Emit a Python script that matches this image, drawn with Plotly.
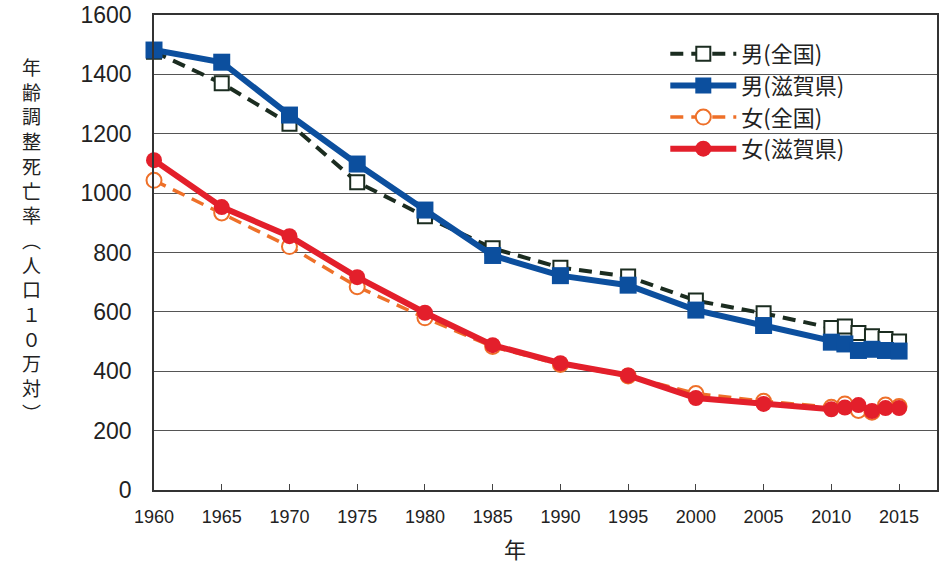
import plotly.graph_objects as go

years = [1960, 1965, 1970, 1975, 1980, 1985, 1990, 1995, 2000, 2005,
         2010, 2011, 2012, 2013, 2014, 2015]
male_national = [1476, 1370, 1234, 1037, 922, 814, 749, 719, 638, 595,
                 546, 551, 529, 518, 509, 500]
male_shiga = [1482, 1441, 1263, 1098, 943, 790, 722, 690, 606, 554,
              498, 492, 470, 474, 470, 468]
female_national = [1043, 933, 820, 685, 580, 483, 423, 384, 325, 299,
                   279, 290, 268, 262, 286, 281]
female_shiga = [1111, 953, 855, 717, 597, 488, 427, 386, 310, 290,
                272, 278, 286, 266, 276, 276]

series_names = ["男(全国)", "男(滋賀県)", "女(全国)", "女(滋賀県)"]
x_ticks = [1960, 1965, 1970, 1975, 1980, 1985, 1990, 1995, 2000, 2005, 2010, 2015]
y_ticks = [0, 200, 400, 600, 800, 1000, 1200, 1400, 1600]
y_title_chars = ["年", "齢", "調", "整", "死", "亡", "率", "︵", "人", "口", "１", "０", "万", "対", "︶"]
x_title = "年"

fig = go.Figure()
fig.add_trace(go.Scatter(
    x=years, y=male_national, name=series_names[0], mode="lines+markers",
    line=dict(color="#1b2c20", width=4, dash="13px,8px"),
    marker=dict(symbol="square", size=14, color="white",
                line=dict(color="#1b2c20", width=2)),
    cliponaxis=False))
fig.add_trace(go.Scatter(
    x=years, y=male_shiga, name=series_names[1], mode="lines+markers",
    line=dict(color="#0c4f9e", width=6),
    marker=dict(symbol="square", size=17, color="#0c4f9e"),
    cliponaxis=False))
fig.add_trace(go.Scatter(
    x=years, y=female_national, name=series_names[2], mode="lines+markers",
    line=dict(color="#ee7029", width=3.5, dash="13px,8px"),
    marker=dict(symbol="circle", size=15, color="white",
                line=dict(color="#ee7029", width=2)),
    cliponaxis=False))
fig.add_trace(go.Scatter(
    x=years, y=female_shiga, name=series_names[3], mode="lines+markers",
    line=dict(color="#e31f2b", width=6),
    marker=dict(symbol="circle", size=16, color="#e31f2b"),
    cliponaxis=False))

fig.update_layout(
    width=948, height=564,
    margin=dict(l=154, r=11, t=15, b=74),
    paper_bgcolor="white", plot_bgcolor="white",
    font=dict(family="Liberation Sans, Arial, sans-serif", color="#222"),
    legend=dict(
        x=0.653, y=0.962, xanchor="left", yanchor="top",
        bgcolor="rgba(0,0,0,0)", borderwidth=0,
        font=dict(family="Noto Sans CJK JP", size=22, color="#222"),
        itemwidth=66, tracegroupgap=0,
    ),
    showlegend=True,
)
fig.update_xaxes(
    range=[1960, 2017.8], tickvals=x_ticks, ticktext=[str(v) for v in x_ticks],
    ticks="inside", ticklen=6, tickcolor="#444", tickwidth=1,
    showgrid=False, zeroline=False, automargin=False,
    showline=True, linecolor="#333", linewidth=1.5, mirror=True,
    tickfont=dict(family="Liberation Sans Narrow, Arial Narrow, Liberation Sans", size=18, color="#222"),
    ticklabelstandoff=10, ticklabeloverflow="allow",
)
fig.update_yaxes(
    range=[0, 1600], tickvals=y_ticks,
    ticks="", showgrid=True, gridcolor="#555", gridwidth=1,
    zeroline=False, automargin=False,
    showline=True, linecolor="#333", linewidth=1.5, mirror=True,
    tickfont=dict(family="Liberation Sans, Arial", size=23, color="#222"),
    ticklabelstandoff=16, ticklabeloverflow="allow",
)
fig.add_annotation(
    xref="paper", yref="paper", x=-0.157, y=0.528,
    xanchor="center", yanchor="middle", showarrow=False,
    text="<br>".join(y_title_chars),
    font=dict(family="Noto Sans CJK JP", size=19, color="#222"),
)
fig.add_annotation(
    xref="paper", yref="paper", x=0.461, y=-0.122,
    xanchor="center", yanchor="middle", showarrow=False,
    text=x_title,
    font=dict(family="Noto Sans CJK JP", size=22, color="#222"),
)
fig.write_html(
    "out.html",
    config={"displayModeBar": False},
    post_script="document.body.style.margin='0';document.body.style.padding='0';",
)
